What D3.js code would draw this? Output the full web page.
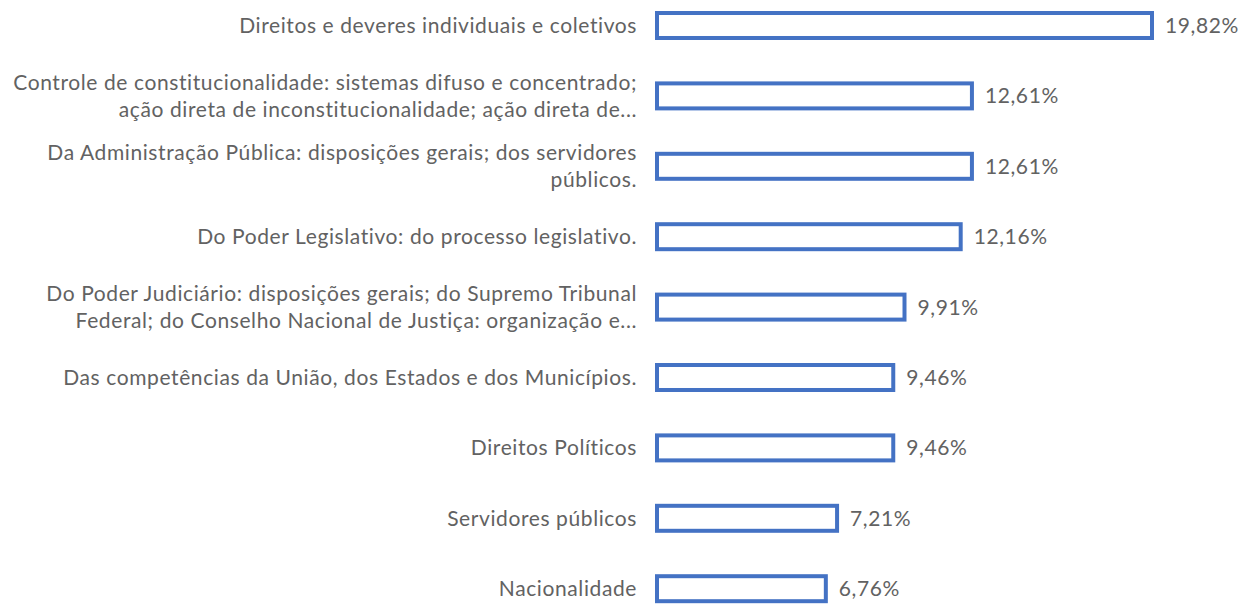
<!DOCTYPE html>
<html>
<head>
<meta charset="utf-8">
<script src="https://cdn.jsdelivr.net/npm/d3@7"></script>
<style>
  body { margin: 0; background: #fff; }
  text { font-family: Lato, "Open Sans", sans-serif; fill: #626262; letter-spacing: 0.6px; }
</style>
</head>
<body>
<div id="grafico"></div>
<script>
const width  = 1242;
const height = 605;

// categories, wrapped and cut the way the original chart shows them
const categories = [
    "Direitos e deveres individuais e coletivos",
    "Controle de constitucionalidade: sistemas difuso e concentrado;\nação direta de inconstitucionalidade; ação direta de...",
    "Da Administração Pública: disposições gerais; dos servidores\npúblicos.",
    "Do Poder Legislativo: do processo legislativo.",
    "Do Poder Judiciário: disposições gerais; do Supremo Tribunal\nFederal; do Conselho Nacional de Justiça: organização e...",
    "Das competências da União, dos Estados e dos Municípios.",
    "Direitos Políticos",
    "Servidores públicos",
    "Nacionalidade"
];

const values = [19.82, 12.61, 12.61, 12.16, 9.91, 9.46, 9.46, 7.21, 6.76];

const valueLabels = ["19,82%", "12,61%", "12,61%", "12,16%", "9,91%", "9,46%", "9,46%", "7,21%", "6,76%"];

const data = categories.map((c, i) => ({ cat: c, value: values[i], label: valueLabels[i] }));

const svg = d3.select("#grafico")
              .append("svg")
              .attr("width", width)
              .attr("height", height);

const xScale = d3.scaleLinear()
                 .domain([0, d3.max(values)])
                 .range([657, 1152]);

const yScale = d3.scaleBand()
                 .domain(categories)
                 .range([-9.7, 623.9])
                 .paddingInner(0.645)
                 .paddingOuter(0.3225);

const fontSize = 21;
const lineH = 27;

svg.selectAll("rect.bar")
   .data(data)
   .join("rect")
   .attr("class", "bar")
   .attr("x", xScale(0))
   .attr("y", d => yScale(d.cat))
   .attr("width", d => xScale(d.value) - xScale(0))
   .attr("height", yScale.bandwidth())
   .attr("fill", "#fff")
   .attr("stroke", "#4472C4")
   .attr("stroke-width", 4);

svg.selectAll("text.val")
   .data(data)
   .join("text")
   .attr("class", "val")
   .attr("x", d => xScale(d.value) + 13)
   .attr("y", d => yScale(d.cat) + yScale.bandwidth() / 2)
   .attr("dy", "0.36em")
   .style("font-size", fontSize + "px")
   .text(d => d.label);

const labels = svg.selectAll("text.cat")
   .data(data)
   .join("text")
   .attr("class", "cat")
   .attr("text-anchor", "end")
   .style("font-size", fontSize + "px");

labels.each(function(d) {
    const lines = d.cat.split("\n");
    const mid = yScale(d.cat) + yScale.bandwidth() / 2;
    const first = mid - (lines.length - 1) * lineH / 2;
    d3.select(this).selectAll("tspan")
      .data(lines)
      .join("tspan")
      .attr("x", 637)
      .attr("y", (l, j) => first + j * lineH)
      .attr("dy", "0.36em")
      .text(l => l);
});
</script>
</body>
</html>
